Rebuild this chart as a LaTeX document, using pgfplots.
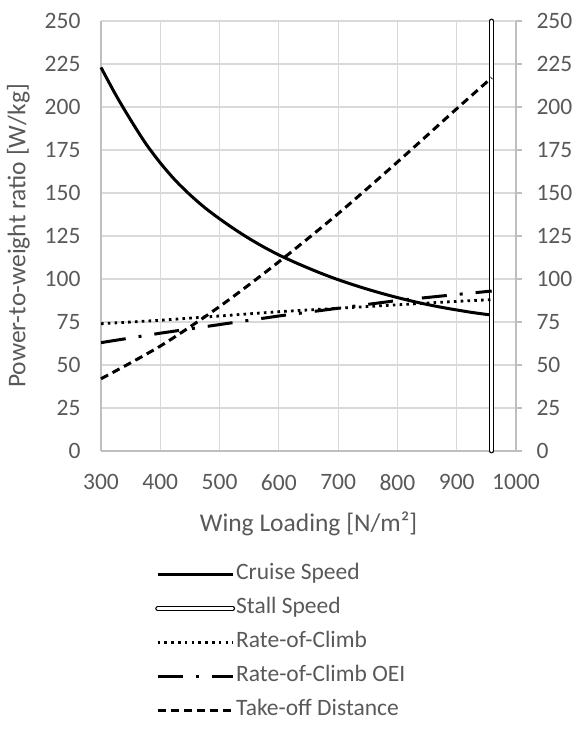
\documentclass[border=0pt]{standalone}
\usepackage{fontspec}
\setmainfont{Carlito}
\usepackage{pgfplots}
\pgfplotsset{compat=1.18}
\definecolor{txtgray}{HTML}{595959}
\definecolor{gridgray}{HTML}{D9D9D9}
\definecolor{axgray}{HTML}{BFBFBF}
\newcommand{\fs}{\fontsize{23.5}{28}\selectfont}
\newcommand{\fl}{\fontsize{25.5}{30}\selectfont}

\begin{document}
\begin{tikzpicture}
\path[use as bounding box] (-101pt,-293pt) rectangle (478pt,451pt);
\begin{axis}[
    scale only axis, width=415pt, height=430pt,
    xmin=300, xmax=1000, ymin=0, ymax=250,
    xtick={300,400,...,1000}, ytick={0,25,...,250},
    axis x line*=bottom, axis y line*=left,
    axis line style={-, draw=axgray, line width=1.3pt},
    major tick length=0pt,
    grid=major, major grid style={draw=gridgray, line width=1.2pt},
    /pgf/number format/assume math mode=true,
    /pgf/number format/1000 sep={},
    tick label style={font=\fs, text=txtgray},
    xticklabel style={yshift=-20pt},
    yticklabel style={xshift=-17pt},
    xlabel={Wing Loading [N/m²]}, ylabel={Power-to-weight ratio [W/kg]},
    label style={font=\fl, text=txtgray},
    xlabel style={yshift=-14pt},
    ylabel style={yshift=8pt},
    clip=false,
    legend image code/.code={\draw[#1] (0pt,0pt) -- (75pt,0pt);},
    legend style={at={(axis description cs:0.123,-0.259)}, anchor=north west,
        draw=none, fill=none, font=\fs, text=txtgray, row sep=14pt,
        nodes={inner sep=1pt, text height=14pt, text depth=4pt}},
    legend cell align=left,
]
% Cruise Speed
\addplot[black, line width=3pt, smooth] coordinates {
(300,223) (325,207) (350,192.5) (375,179) (400,167.5) (425,157.5) (450,149)
(475,141.5) (500,135) (525,129) (550,123.5) (575,118.5) (600,114) (625,110)
(650,106.3) (675,102.8) (700,99.6) (725,96.7) (750,94) (775,91.5) (800,89.2)
(825,87.1) (850,85.2) (875,83.5) (900,82) (925,80.6) (959,79)};
\addlegendentry{Cruise Speed}
% Stall Speed
\addplot[black, line width=1.2pt, double=white, double distance=2.5pt, line cap=round] coordinates {
(959,0) (959,250)};
\addlegendentry{Stall Speed}
% Rate-of-Climb
\addplot[black, line width=2.8pt, dash pattern=on 2.6pt off 4.2pt] coordinates {
(300,74) (400,76) (500,78.5) (600,81) (700,83) (800,85) (900,87) (959,88)};
\addlegendentry{Rate-of-Climb}
% Rate-of-Climb OEI
\addplot[black, line width=3pt, dash pattern=on 25pt off 13pt on 3pt off 13pt] coordinates {
(300,63) (400,68.5) (500,73.5) (600,78.5) (700,83) (800,87.5) (900,91) (959,93)};
\addlegendentry{Rate-of-Climb OEI}
% Take-off Distance
\addplot[black, line width=3pt, dash pattern=on 8pt off 5pt, smooth] coordinates {
(300,42) (400,61) (500,84) (600,110) (700,138) (800,168) (900,199) (959,217)};
\addlegendentry{Take-off Distance}
\end{axis}
\begin{axis}[
    scale only axis, width=415pt, height=430pt,
    xmin=300, xmax=1000, ymin=0, ymax=250,
    ytick={0,25,...,250},
    axis x line=none, axis y line*=right,
    axis line style={-, draw=axgray, line width=1.3pt},
    ytick style={draw=axgray, line width=1.3pt},
    ytick align=outside, major tick length=6pt,
    /pgf/number format/assume math mode=true,
    tick label style={font=\fs, text=txtgray},
    yticklabel style={xshift=11pt},
]
\end{axis}
\end{tikzpicture}
\end{document}
